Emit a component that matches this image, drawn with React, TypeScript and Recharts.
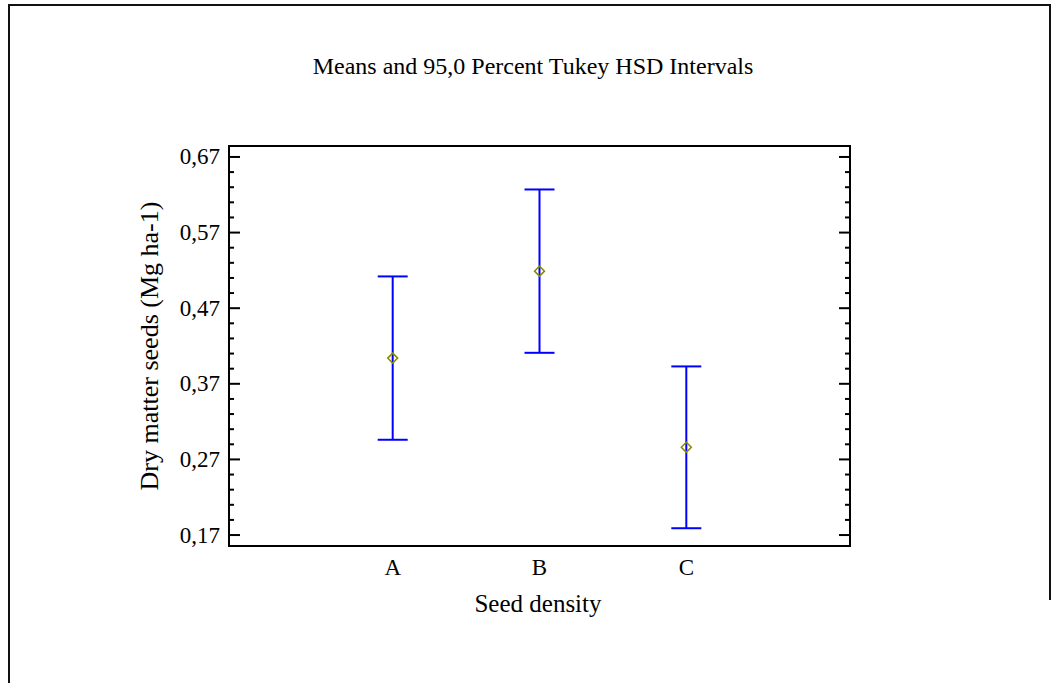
import React from 'react';
import {
  ScatterChart,
  Scatter,
  XAxis,
  YAxis,
  ErrorBar,
  ReferenceArea,
} from 'recharts';

const categories = ['A', 'B', 'C'];
const categoryPositions = [1, 2, 3];
const means = [0.404, 0.519, 0.286];
const intervalHalfWidths = [0.108, 0.108, 0.107];

const majorTicks = [0.17, 0.27, 0.37, 0.47, 0.57, 0.67];
const minorTicks = [
  0.19, 0.21, 0.23, 0.25, 0.29, 0.31, 0.33, 0.35, 0.39, 0.41, 0.43, 0.45,
  0.49, 0.51, 0.53, 0.55, 0.59, 0.61, 0.63, 0.65,
];

const data = categories.map((name, i) => ({
  name,
  x: categoryPositions[i],
  mean: means[i],
  err: intervalHalfWidths[i],
}));

const W = 1058;
const H = 683;
const PLOT_LEFT = 229;
const PLOT_RIGHT = 850;
const PLOT_TOP = 146;
const PLOT_BOTTOM = 546;
const Y_DOMAIN: [number, number] = [0.1555, 0.6845];
const X_DOMAIN: [number, number] = [-0.115, 4.115];

const FONT = '"Liberation Serif", "Times New Roman", serif';

const isMajor = (v: number) => majorTicks.some((m) => Math.abs(m - v) < 1e-6);

const LeftTick = (props: any) => {
  const { y, payload } = props;
  const major = isMajor(payload.value);
  return (
    <g>
      <line
        x1={PLOT_LEFT}
        x2={PLOT_LEFT + (major ? 11 : 5)}
        y1={y}
        y2={y}
        stroke="#000"
        strokeWidth={2}
      />
      {major && (
        <text
          x={PLOT_LEFT - 9}
          y={y}
          textAnchor="end"
          dominantBaseline="central"
          fontFamily={FONT}
          fontSize={23}
          fill="#000"
        >
          {payload.value.toFixed(2).replace('.', ',')}
        </text>
      )}
    </g>
  );
};

const RightTick = (props: any) => {
  const { y, payload } = props;
  const major = isMajor(payload.value);
  return (
    <line
      x1={PLOT_RIGHT}
      x2={PLOT_RIGHT - (major ? 11 : 5)}
      y1={y}
      y2={y}
      stroke="#000"
      strokeWidth={2}
    />
  );
};

const CategoryTick = (props: any) => {
  const { x, payload } = props;
  const idx = categoryPositions.indexOf(payload.value);
  return (
    <text
      x={x}
      y={567}
      textAnchor="middle"
      dominantBaseline="central"
      fontFamily={FONT}
      fontSize={23}
      fill="#000"
    >
      {categories[idx] ?? ''}
    </text>
  );
};

const Diamond = (props: any) => {
  const { cx, cy } = props;
  const r = 5;
  return (
    <polygon
      points={`${cx},${cy - r} ${cx + r},${cy} ${cx},${cy + r} ${cx - r},${cy}`}
      fill="none"
      stroke="#8a8a00"
      strokeWidth={1.5}
    />
  );
};

export default function App() {
  return (
    <div
      style={{
        position: 'fixed',
        left: 0,
        top: 0,
        width: W,
        height: H,
        overflow: 'hidden',
        background: '#fff',
        fontFamily: FONT,
      }}
    >
      <svg
        width={W}
        height={H}
        style={{ position: 'absolute', left: 0, top: 0 }}
      >
        <polyline
          points={`9,${H} 9,5 1050,5 1050,600`}
          fill="none"
          stroke="#111"
          strokeWidth={2}
        />
      </svg>
      <div
        style={{
          position: 'absolute',
          left: 4,
          width: W,
          top: 52,
          textAlign: 'center',
          fontSize: 24,
          lineHeight: '28px',
          color: '#000',
        }}
      >
        Means and 95,0 Percent Tukey HSD Intervals
      </div>
      <div
        style={{
          position: 'absolute',
          left: 538 - 200,
          width: 400,
          top: 590,
          textAlign: 'center',
          fontSize: 25,
          lineHeight: '28px',
          color: '#000',
        }}
      >
        Seed density
      </div>
      <div
        style={{
          position: 'absolute',
          left: 150 - 200,
          top: 346 - 14,
          width: 400,
          textAlign: 'center',
          fontSize: 26,
          lineHeight: '28px',
          color: '#000',
          transform: 'rotate(-90deg)',
        }}
      >
        Dry matter seeds (Mg ha-1)
      </div>
      <div style={{ position: 'absolute', left: 0, top: 0 }}>
        <ScatterChart
          width={W}
          height={H}
          margin={{ top: PLOT_TOP, right: 0, bottom: 0, left: 0 }}
        >
          <XAxis
            type="number"
            dataKey="x"
            domain={X_DOMAIN}
            allowDataOverflow
            ticks={categoryPositions}
            height={H - PLOT_BOTTOM}
            axisLine={false}
            tickLine={false}
            tick={<CategoryTick />}
          />
          <YAxis
            yAxisId="left"
            type="number"
            dataKey="mean"
            domain={Y_DOMAIN}
            allowDataOverflow
            ticks={[...majorTicks, ...minorTicks]}
            interval={0}
            width={PLOT_LEFT}
            axisLine={false}
            tickLine={false}
            tick={<LeftTick />}
          />
          <YAxis
            yAxisId="right"
            orientation="right"
            type="number"
            dataKey="mean"
            domain={Y_DOMAIN}
            allowDataOverflow
            ticks={[...majorTicks, ...minorTicks]}
            interval={0}
            width={W - PLOT_RIGHT}
            axisLine={false}
            tickLine={false}
            tick={<RightTick />}
          />
          <ReferenceArea
            yAxisId="left"
            x1={X_DOMAIN[0]}
            x2={X_DOMAIN[1]}
            y1={Y_DOMAIN[0]}
            y2={Y_DOMAIN[1]}
            fill="none"
            fillOpacity={0}
            stroke="#000"
            strokeWidth={2}
          />
          <Scatter
            yAxisId="left"
            data={data}
            shape={<Diamond />}
            isAnimationActive={false}
          >
            <ErrorBar
              dataKey="err"
              direction="y"
              width={15}
              stroke="#0000ff"
              strokeWidth={2}
              isAnimationActive={false}
            />
          </Scatter>
        </ScatterChart>
      </div>
    </div>
  );
}
